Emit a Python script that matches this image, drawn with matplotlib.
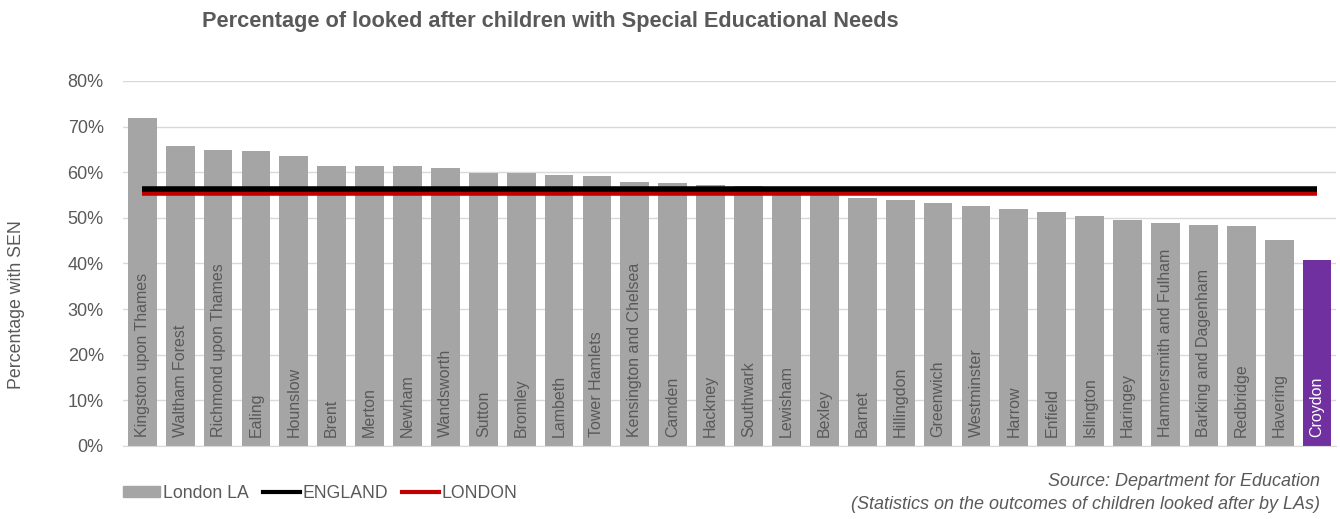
import numpy as np
import matplotlib.pyplot as plt
from matplotlib.lines import Line2D
from matplotlib.patches import Patch

plt.rcParams['font.family'] = ['Liberation Sans', 'DejaVu Sans']

boroughs = ["Kingston upon Thames", "Waltham Forest", "Richmond upon Thames", "Ealing",
            "Hounslow", "Brent", "Merton", "Newham", "Wandsworth", "Sutton", "Bromley",
            "Lambeth", "Tower Hamlets", "Kensington and Chelsea", "Camden", "Hackney",
            "Southwark", "Lewisham", "Bexley", "Barnet", "Hillingdon", "Greenwich",
            "Westminster", "Harrow", "Enfield", "Islington", "Haringey",
            "Hammersmith and Fulham", "Barking and Dagenham", "Redbridge", "Havering",
            "Croydon"]
sen_pct = [71.9, 65.8, 64.9, 64.7, 63.6, 61.4, 61.4, 61.3, 60.9, 59.9, 59.8,
           59.4, 59.2, 57.8, 57.6, 57.2, 57.0, 55.8, 54.9, 54.4, 54.0, 53.2,
           52.7, 52.0, 51.3, 50.3, 49.5, 48.8, 48.4, 48.2, 45.1, 40.8]
england_pct = 56.3
london_pct = 55.4
highlight = "Croydon"

grey = "#a5a5a5"
purple = "#7030a0"
text_col = "#595959"

fig = plt.figure(figsize=(13.4, 5.19), dpi=100)
ax = fig.add_axes([0.092, 0.1407, 0.905, 0.7033])

x = np.arange(len(boroughs))
colors = [purple if b == highlight else grey for b in boroughs]
ax.bar(x, sen_pct, width=0.76, color=colors, zorder=2)

ax.plot([x[0], x[-1]], [england_pct] * 2, color="black", lw=4, zorder=4, solid_capstyle="butt")
ax.plot([x[0], x[-1]], [london_pct] * 2, color="#c00000", lw=4, zorder=3, solid_capstyle="butt")

for xi, name in zip(x, boroughs):
    c = "white" if name == highlight else text_col
    ax.text(xi, 2, name, rotation=90, ha="center", va="bottom", fontsize=11.5,
            color=c, zorder=5)

ax.set_xlim(-0.5, len(boroughs) - 0.5)
ax.set_ylim(0, 80)
ax.set_yticks(np.arange(0, 81, 10))
ax.set_yticklabels([f"{v}%" for v in range(0, 81, 10)], fontsize=13, color=text_col)
ax.set_xticks([])
ax.grid(axis="y", color="#d9d9d9", lw=1, zorder=0)
ax.set_axisbelow(True)
for s in ["top", "right", "left"]:
    ax.spines[s].set_visible(False)
ax.spines["bottom"].set_color("#d9d9d9")
ax.tick_params(axis="y", length=0, pad=14)

fig.text(0.006, 0.414, "Percentage with SEN", rotation=90, ha="left", va="center",
         fontsize=12.75, color=text_col)
fig.text(0.411, 0.958, "Percentage of looked after children with Special Educational Needs",
         ha="center", va="center", fontsize=15.7, fontweight="bold", color=text_col)

handles = [Patch(color=grey, label="London LA"),
           Line2D([], [], color="black", lw=3, label="ENGLAND"),
           Line2D([], [], color="#c00000", lw=3, label="LONDON")]
fig.legend(handles=handles, loc="center left", bbox_to_anchor=(0.080, 0.05), ncol=3,
           frameon=False, fontsize=12.7, handlelength=2.1, handleheight=0.6,
           handletextpad=0.15, columnspacing=0.8, labelcolor=text_col)

fig.text(0.985, 0.072, "Source: Department for Education", ha="right", va="center",
         fontsize=13, style="italic", color=text_col)
fig.text(0.985, 0.028, "(Statistics on the outcomes of children looked after by LAs)",
         ha="right", va="center", fontsize=13, style="italic", color=text_col)

fig.savefig("out.png", dpi=100)
